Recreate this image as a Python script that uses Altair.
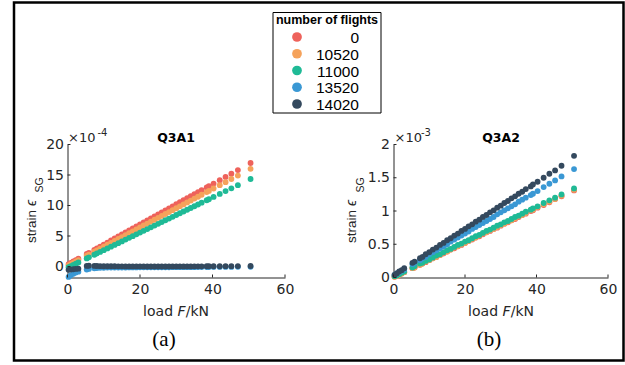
import altair as alt
import pandas as pd

# ---------------------------------------------------------------- data
flights = ["0", "10520", "11000", "13520", "14020"]
colors = ["#EE625B", "#F5A25B", "#1FBA96", "#3A98D4", "#34495E"]

# applied load F in kN (same load steps for every run)
loads = [0.3, 0.9, 1.6, 2.3, 3.0, 5.3, 5.9, 7.4, 8.1, 9,
         10, 11, 12, 13, 14, 15, 16, 17, 18, 19,
         20, 21, 22, 23, 24, 25, 26, 27, 28, 29,
         30, 31, 32, 33, 34, 35, 36, 37, 38.4, 39.0,
         40.3, 42.0, 43.6, 45.2, 47.0, 50.5]

# gauge Q3A1, strain in units of 1e-4
q3a1_0 = [0.40, 0.60, 0.83, 1.06, 1.29, 2.05, 2.25, 2.74, 2.97, 3.27,
          3.60, 3.93, 4.26, 4.59, 4.92, 5.25, 5.58, 5.91, 6.24, 6.57,
          6.90, 7.23, 7.56, 7.89, 8.22, 8.55, 8.88, 9.21, 9.54, 9.87,
          10.20, 10.53, 10.86, 11.19, 11.52, 11.85, 12.18, 12.51, 12.97, 13.17,
          13.60, 14.16, 14.69, 15.22, 15.81, 16.97]
q3a1_10520 = [0.19, 0.38, 0.60, 0.82, 1.05, 1.77, 1.96, 2.43, 2.65, 2.94,
               3.25, 3.57, 3.88, 4.20, 4.51, 4.83, 5.14, 5.46, 5.77, 6.09,
               6.40, 6.72, 7.03, 7.35, 7.66, 7.98, 8.29, 8.61, 8.92, 9.24,
               9.55, 9.87, 10.18, 10.50, 10.81, 11.13, 11.44, 11.76, 12.20, 12.39,
               12.79, 13.33, 13.83, 14.34, 14.91, 16.01]
q3a1_11000 = [-0.11, 0.06, 0.26, 0.46, 0.66, 1.33, 1.50, 1.93, 2.13, 2.39,
              2.68, 2.97, 3.26, 3.54, 3.83, 4.12, 4.41, 4.70, 4.98, 5.27,
              5.56, 5.85, 6.14, 6.42, 6.71, 7.00, 7.29, 7.58, 7.86, 8.15,
              8.44, 8.73, 9.02, 9.30, 9.59, 9.88, 10.17, 10.46, 10.86, 11.03,
              11.41, 11.90, 12.36, 12.82, 13.34, 14.34]
q3a1_13520 = [-1.70, -1.45, -1.20, -1.00, -0.85, -0.50, -0.40, -0.30, -0.25, -0.20,
               -0.20, -0.18, -0.18, -0.17, -0.17, -0.16, -0.16, -0.15, -0.15, -0.15,
               -0.14, -0.14, -0.14, -0.13, -0.13, -0.13, -0.12, -0.12, -0.12, -0.11,
               -0.11, -0.11, -0.10, -0.10, -0.10, -0.10, -0.09, -0.09, -0.08, -0.08,
               -0.07, -0.07, -0.06, -0.06, -0.05, -0.04]
q3a1_14020 = [-0.55, -0.50, -0.45, -0.40, -0.35, 0.10, 0.12, 0.10, 0.08, 0.06,
               0.05, 0.05, 0.04, 0.04, 0.03, 0.03, 0.02, 0.02, 0.02, 0.01,
               0.01, 0.01, 0.00, 0.00, 0.00, 0.00, 0.00, 0.00, 0.00, 0.01,
               0.01, 0.01, 0.02, 0.02, 0.02, 0.03, 0.03, 0.03, 0.04, 0.04,
               0.05, 0.05, 0.06, 0.06, 0.07, 0.08]

# gauge Q3A2, strain in units of 1e-3
q3a2_0 = [0.01, 0.02, 0.04, 0.06, 0.08, 0.14, 0.15, 0.19, 0.21, 0.23,
          0.26, 0.29, 0.31, 0.34, 0.36, 0.39, 0.42, 0.44, 0.47, 0.49,
          0.52, 0.55, 0.57, 0.60, 0.62, 0.65, 0.68, 0.70, 0.73, 0.75,
          0.78, 0.81, 0.83, 0.86, 0.88, 0.91, 0.94, 0.96, 1.00, 1.01,
          1.05, 1.09, 1.13, 1.18, 1.22, 1.31]
q3a2_10520 = [0.01, 0.02, 0.04, 0.06, 0.08, 0.14, 0.15, 0.19, 0.21, 0.24,
               0.26, 0.29, 0.31, 0.34, 0.37, 0.39, 0.42, 0.45, 0.47, 0.50,
               0.52, 0.55, 0.58, 0.60, 0.63, 0.66, 0.68, 0.71, 0.73, 0.76,
               0.79, 0.81, 0.84, 0.86, 0.89, 0.92, 0.94, 0.97, 1.01, 1.02,
               1.06, 1.10, 1.14, 1.18, 1.23, 1.32]
q3a2_11000 = [0.02, 0.03, 0.05, 0.07, 0.09, 0.15, 0.17, 0.21, 0.22, 0.25,
              0.27, 0.30, 0.33, 0.35, 0.38, 0.41, 0.43, 0.46, 0.49, 0.51,
              0.54, 0.56, 0.59, 0.62, 0.64, 0.67, 0.70, 0.72, 0.75, 0.78,
              0.80, 0.83, 0.85, 0.88, 0.91, 0.93, 0.96, 0.99, 1.02, 1.04,
              1.07, 1.12, 1.16, 1.20, 1.25, 1.34]
q3a2_13520 = [0.04, 0.06, 0.08, 0.10, 0.12, 0.20, 0.22, 0.26, 0.29, 0.31,
               0.35, 0.38, 0.41, 0.44, 0.47, 0.50, 0.54, 0.57, 0.60, 0.63,
               0.66, 0.69, 0.73, 0.76, 0.79, 0.82, 0.85, 0.88, 0.91, 0.95,
               0.98, 1.01, 1.04, 1.07, 1.10, 1.14, 1.17, 1.20, 1.24, 1.26,
               1.30, 1.36, 1.41, 1.46, 1.52, 1.63]
q3a2_14020 = [0.04, 0.06, 0.09, 0.11, 0.14, 0.22, 0.24, 0.29, 0.31, 0.35,
              0.38, 0.42, 0.45, 0.49, 0.52, 0.56, 0.59, 0.63, 0.66, 0.70,
              0.73, 0.77, 0.80, 0.84, 0.87, 0.91, 0.94, 0.98, 1.01, 1.05,
              1.08, 1.12, 1.15, 1.19, 1.22, 1.26, 1.29, 1.33, 1.37, 1.40,
              1.44, 1.50, 1.56, 1.61, 1.68, 1.83]

x_ticks = [0, 20, 40, 60]
y_ticks_a = [0, 5, 10, 15, 20]
y_ticks_b = [0, 0.5, 1, 1.5, 2]

# ---------------------------------------------------------------- layout (pixels)
W, H = 625, 365
AX_BOTTOM, AX_TOP = 277.5, 144.5
A_LEFT, A_RIGHT = 67.5, 285
B_LEFT, B_RIGHT = 393.5, 608
AXC = "#262626"
TICK_FONT = "DejaVu Sans"


def long_table(series):
    rows = []
    for f, vals in zip(flights, series):
        for x, y in zip(loads, vals):
            rows.append({"flights": f, "load": x, "strain": y})
    return pd.DataFrame(rows)


color_enc = alt.Color("flights:N", scale=alt.Scale(domain=flights, range=colors), legend=None)


def panel(series, x_range, y_domain, y_ticks):
    df = long_table(series)
    x_enc = alt.X(
        "load:Q",
        scale=alt.Scale(domain=[0, 60], range=x_range, nice=False, zero=False),
        axis=alt.Axis(values=x_ticks, orient="bottom", offset=AX_BOTTOM - H, title=None,
                      grid=False, ticks=False, labelPadding=5, labelFont=TICK_FONT,
                      labelFontSize=14, labelColor=AXC, domainColor=AXC, domainWidth=1,
                      labelFlush=False),
    )
    y_enc = alt.Y(
        "strain:Q",
        scale=alt.Scale(domain=y_domain, range=[AX_BOTTOM, AX_TOP], nice=False, zero=False),
        axis=alt.Axis(values=y_ticks, orient="left", offset=-x_range[0], title=None,
                      grid=False, ticks=False, labelPadding=4, labelFont=TICK_FONT,
                      labelFontSize=14, labelColor=AXC, domainColor=AXC, domainWidth=1,
                      format="~g", labelFlush=False),
    )
    pts = alt.Chart(df).mark_circle(size=34, opacity=1).encode(x=x_enc, y=y_enc, color=color_enc)
    # inward tick marks, MATLAB style
    xt = alt.Chart(pd.DataFrame({"load": x_ticks})).mark_rule(color=AXC, strokeWidth=1).encode(
        x=x_enc, y=alt.value(AX_BOTTOM), y2=alt.value(AX_BOTTOM - 3))
    yt = alt.Chart(pd.DataFrame({"strain": y_ticks})).mark_rule(color=AXC, strokeWidth=1).encode(
        y=y_enc, x=alt.value(x_range[0]), x2=alt.value(x_range[0] + 3))
    return alt.layer(pts, xt, yt)


def label(text, x, y, **kw):
    return alt.Chart(pd.DataFrame({"t": [text]})).mark_text(**kw).encode(
        x=alt.value(x), y=alt.value(y), text="t:N")


panel_a = panel([q3a1_0, q3a1_10520, q3a1_11000, q3a1_13520, q3a1_14020],
                [A_LEFT, A_RIGHT], [-1.8, 20], y_ticks_a)
panel_b = panel([q3a2_0, q3a2_10520, q3a2_11000, q3a2_13520, q3a2_14020],
                [B_LEFT, B_RIGHT], [0, 2], y_ticks_b)

# ---------------------------------------------------------------- legend
leg_df = pd.DataFrame({"flights": flights})
leg_y = alt.Y("flights:N", sort=flights,
              scale=alt.Scale(type="point", domain=flights, range=[37, 104], padding=0),
              axis=None)
leg_box = alt.Chart(pd.DataFrame({"a": [0]})).mark_rect(
    fill="white", stroke="black", strokeWidth=1).encode(
    x=alt.value(273), x2=alt.value(381), y=alt.value(12.5), y2=alt.value(113))
leg_title = label("number of flights", 327, 24, font="Liberation Sans", fontSize=12.5,
                  fontWeight="bold", align="center", baseline="alphabetic", color="black")
leg_pts = alt.Chart(leg_df).mark_circle(size=95, opacity=1).encode(
    x=alt.value(297), y=leg_y, color=color_enc)
leg_txt = alt.Chart(leg_df).mark_text(
    align="right", baseline="middle", font="Liberation Sans", fontSize=15.5, color="black",
    dy=1).encode(x=alt.value(359), y=leg_y, text="flights:N")
legend = alt.layer(leg_box, leg_title, leg_pts, leg_txt)

# ---------------------------------------------------------------- text annotations
border = alt.Chart(pd.DataFrame({"a": [0]})).mark_rect(
    fillOpacity=0, stroke="black", strokeWidth=2.5).encode(
    x=alt.value(14), x2=alt.value(623.5), y=alt.value(2.5), y2=alt.value(360.5))

texts = []
for cx, name, exp, ylab_x, sub_x, exp_x, sub_exp_x, tag, tag_x in [
    (176, "Q3A1", "-4", 31.5, 39.5, 68, 97.5, "(a)", 164),
    (501, "Q3A2", "-3", 352, 360.5, 394.5, 421, "(b)", 489),
]:
    texts += [
        label(name, cx, 141.5, font="DejaVu Sans", fontSize=12.5, fontWeight="bold",
              align="center", baseline="alphabetic", color="black"),
        label("×10", exp_x, 142, font=TICK_FONT, fontSize=13, align="left",
              baseline="alphabetic", color=AXC),
        label(exp, sub_exp_x, 136, font=TICK_FONT, fontSize=10, align="left",
              baseline="alphabetic", color=AXC),
        # y title: strain ϵ_SG
        label("strain", ylab_x, 243, font="Liberation Sans", fontSize=13.5, angle=270,
              align="left", baseline="middle", color=AXC),
        label("ϵ", ylab_x, 206, font="Liberation Sans", fontSize=14, fontStyle="italic",
              angle=270, align="left", baseline="middle", color=AXC),
        label("SG", sub_x, 192.5, font="Liberation Sans", fontSize=10.5, angle=270,
              align="left", baseline="middle", color=AXC),
        # x title: load F/kN
        label("load", cx - 32.9, 316, font=TICK_FONT, fontSize=14, align="left",
              baseline="alphabetic", color=AXC),
        label("F", cx + 1.5, 316, font=TICK_FONT, fontSize=14, fontStyle="italic",
              align="left", baseline="alphabetic", color=AXC),
        label("/kN", cx + 9.8, 316, font=TICK_FONT, fontSize=14, align="left",
              baseline="alphabetic", color=AXC),
        label(tag, tag_x, 346, font="Liberation Serif", fontSize=21, align="center",
              baseline="alphabetic", color="black"),
    ]

chart = alt.layer(border, panel_a, panel_b, legend, *texts).resolve_scale(
    x="independent", y="independent"
).properties(
    width=W, height=H, autosize=alt.AutoSizeParams(type="none"), padding=0,
    background="white",
).configure_view(stroke=None)

chart.save("out.html", embed_options={"renderer": "svg", "actions": False})
